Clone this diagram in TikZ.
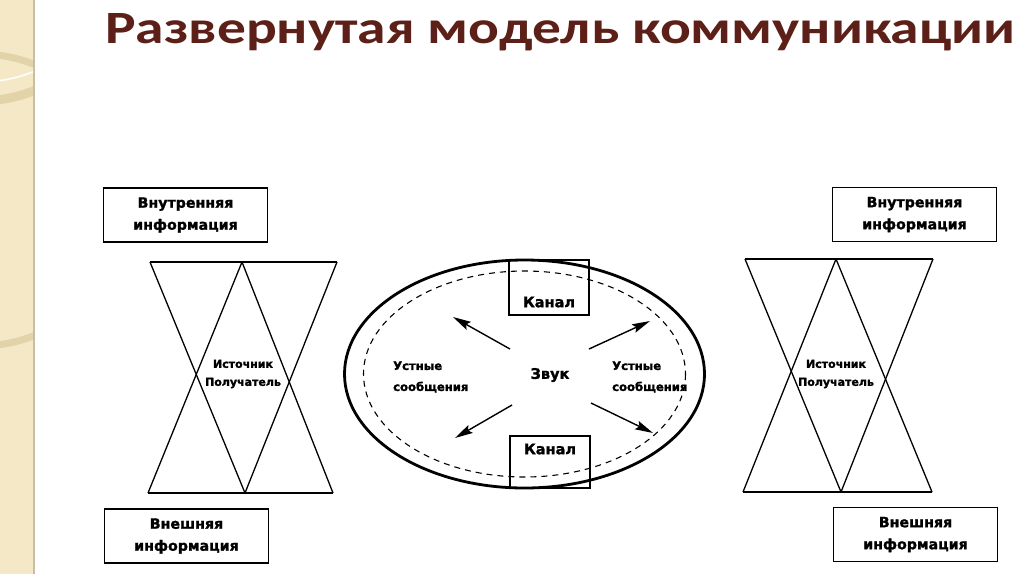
\documentclass[tikz,border=0pt]{standalone}
\usepackage{fontspec}
\setmainfont{DejaVu Sans}[BoldFont={DejaVu Sans Bold}, BoldFeatures={FakeBold=1.5}]
\newfontfamily\titlefont{Carlito}
\usetikzlibrary{arrows.meta}
\definecolor{titlebrown}{RGB}{92,32,24}
\definecolor{stripbeige}{RGB}{244,232,198}
\definecolor{stripband}{RGB}{226,211,168}
\definecolor{stripedge}{RGB}{200,190,165}
\tikzset{
  ln/.style={line width=1.3pt, black},
  infobox/.style={draw, line width=1.4pt, minimum width=164pt, minimum height=54pt,
    inner sep=0pt, align=center, font=\bfseries\fontsize{14.2}{22}\selectfont},
  canalbox/.style={draw, line width=1.3pt, minimum width=80pt, inner sep=0pt},
  lbl/.style={font=\bfseries\fontsize{14.5}{15}\selectfont, inner sep=0pt},
  small/.style={font=\bfseries\fontsize{11}{18}\selectfont, inner sep=0pt, align=center},
  msg/.style={font=\bfseries\fontsize{11.6}{21}\selectfont, inner sep=0pt, align=left, anchor=west},
  arr/.style={line width=1.4pt, -{Stealth[length=18pt,width=9pt,inset=3pt]}}
}
\begin{document}
\begin{tikzpicture}[x=1pt,y=-1pt]
\useasboundingbox (0,0) rectangle (1024,574);
\fill[white] (0,0) rectangle (1024,574);
% decorative strip
\fill[stripbeige] (0,0) rectangle (33,574);
\begin{scope}
\clip (0,0) rectangle (33,574);
\draw[stripband, line width=7pt] (-20,200) circle[radius=146];
\draw[white, line width=1.5pt] (-20,-60) circle[radius=142];
\draw[stripband, line width=9pt] (-20,-45) circle[radius=146];
\end{scope}
\draw[stripedge, line width=2.5pt] (34,0) -- (34,574);
% title
\node[anchor=base west, inner sep=0pt, text=titlebrown] (title) at (105,43)
  {\resizebox{910pt}{30pt}{\titlefont\bfseries Развернутая модель коммуникации}};
% info boxes
\node[infobox] (inL) at (185.5,215) {Внутренняя\\информация};
\node[infobox] (exL) at (186.5,536) {Внешняя\\информация};
\node[infobox] (inR) at (914.5,214.5) {Внутренняя\\информация};
\node[infobox] (exR) at (915.5,534.5) {Внешняя\\информация};
% left hourglass
\coordinate (TL1) at (150,262); \coordinate (TL2) at (242,262); \coordinate (TL3) at (337,262);
\coordinate (BL1) at (148,493); \coordinate (BL2) at (245,493); \coordinate (BL3) at (333,493);
\draw[ln] (TL1) -- (TL3);
\draw[ln] (BL1) -- (BL3);
\draw[ln] (TL1) -- (BL2);
\draw[ln] (TL2) -- (BL1);
\draw[ln] (TL2) -- (BL3);
\draw[ln] (TL3) -- (BL2);
\node[small] (srcL) at (243,374) {Источник\\Получатель};
% right hourglass
\coordinate (TR1) at (745,259); \coordinate (TR2) at (836,259); \coordinate (TR3) at (933,259);
\coordinate (BR1) at (743,492); \coordinate (BR2) at (841,492); \coordinate (BR3) at (932,492);
\draw[ln] (TR1) -- (TR3);
\draw[ln] (BR1) -- (BR3);
\draw[ln] (TR1) -- (BR2);
\draw[ln] (TR2) -- (BR1);
\draw[ln] (TR2) -- (BR3);
\draw[ln] (TR3) -- (BR2);
\node[small] (srcR) at (836,374) {Источник\\Получатель};
% ellipse
\draw[line width=2.8pt] (524.5,374) ellipse[x radius=180, y radius=114];
\draw[line width=1.1pt, dash pattern=on 6pt off 5pt] (524.5,374) ellipse[x radius=161, y radius=103];
% canal boxes
\node[canalbox, minimum height=55pt] (kt) at (549,287.5) {};
\node[lbl] (ktl) at (549,302) {Канал};
\node[canalbox, minimum height=52pt] (kb) at (550,462) {};
\node[lbl] (kbl) at (550,449) {Канал};
% center
\node[lbl] (zv) at (550,375) {Звук};
\node[msg] (msgL) at (393,377) {Устные\\сообщения};
\node[msg] (msgR) at (612,377) {Устные\\сообщения};
% arrows
\coordinate (a1s) at (510,349); \coordinate (a1e) at (453,317);
\coordinate (a2s) at (589,349); \coordinate (a2e) at (650,321);
\coordinate (a3s) at (512,405); \coordinate (a3e) at (455,438);
\coordinate (a4s) at (591,403); \coordinate (a4e) at (653,433);
\draw[arr] (a1s) -- (a1e);
\draw[arr] (a2s) -- (a2e);
\draw[arr] (a3s) -- (a3e);
\draw[arr] (a4s) -- (a4e);
\end{tikzpicture}
\end{document}
